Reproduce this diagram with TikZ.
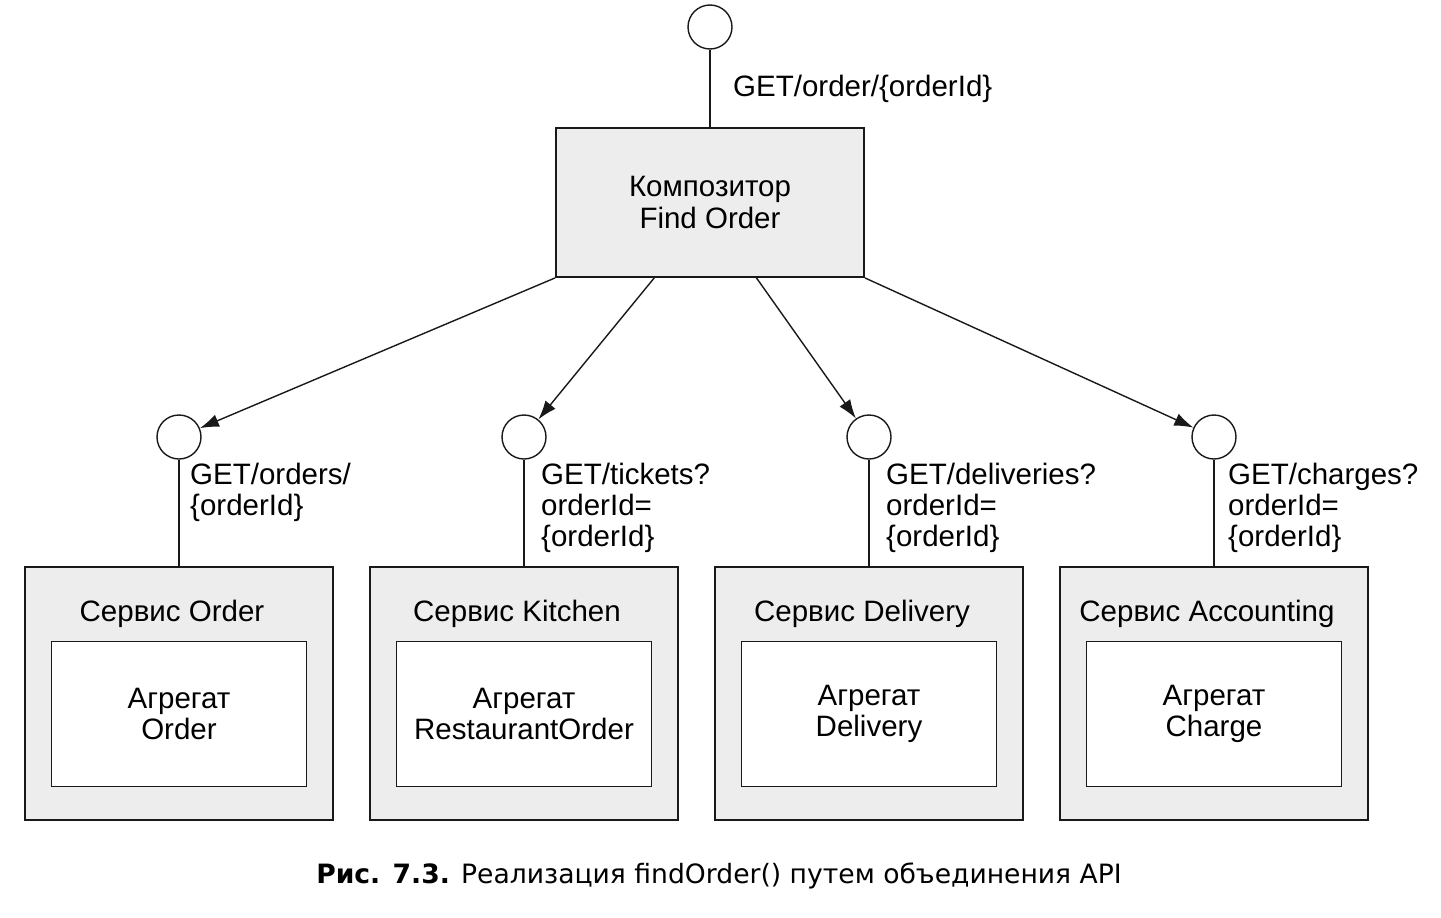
\documentclass[tikz,border=0pt]{standalone}
\usepackage{fontspec}
\setmainfont{Liberation Sans}
\newfontfamily\capfont{DejaVu Sans}
\usetikzlibrary{arrows.meta,calc,positioning}

\begin{document}
\begin{tikzpicture}[x=1pt,y=-1pt]

\tikzset{greybox/.style={draw=black!90,fill=black!7,line width=1.8pt,inner sep=0pt},
aggbox/.style={draw=black!90,fill=white,line width=1.8pt,minimum width=255pt,minimum height=145pt,inner sep=0pt,align=center,font=\fontsize{29.5}{31}\selectfont},
port/.style={draw=black!90,fill=white,circle,line width=1.4pt,minimum size=44pt,inner sep=0pt},
apilabel/.style={anchor=north west,align=left,inner sep=0pt,font=\fontsize{29.5}{31}\selectfont},
link/.style={line width=1.4pt,draw=black!90},
call/.style={link,-{Latex[length=19pt,width=13pt]}}}

% frame
\useasboundingbox (0,0) rectangle (1441,918);

% composer
\node (top) [port] at (710,27) {};
\node (comp) [greybox,minimum width=308pt,minimum height=149pt,align=center,font=\fontsize{29.5}{32}\selectfont] at (710,202.5) {Композитор\\Find Order};
\draw[link] (top) -- (comp);
\node (topapi) [apilabel] at (733,75) {GET/order/\{orderId\}};

% services with their aggregates
\foreach \i/\x/\svc/\agg in {1/179/Order/Order, 2/524/Kitchen/RestaurantOrder, 3/869/Delivery/Delivery, 4/1214/Accounting/Charge} {
  \node (svc\i) [greybox,minimum width=308pt,minimum height=253pt] at (\x,693.5) {};
  \node (name\i) [inner sep=0pt,font=\fontsize{29.5}{31}\selectfont] at ($(svc\i.north)+(-7,48)$) {Сервис \svc};
  \node (agg\i) [aggbox] at (\x,714) {Агрегат\\\agg};
  \node (c\i) [port] at (\x,437) {};
  \draw[link] (c\i) -- (svc\i);
}

% api labels
\node (api1) [apilabel] at (190,463) {GET/orders/\\\{orderId\}};
\node (api2) [apilabel] at (541,463) {GET/tickets?\\orderId=\\\{orderId\}};
\node (api3) [apilabel] at (886,463) {GET/deliveries?\\orderId=\\\{orderId\}};
\node (api4) [apilabel] at (1228,463) {GET/charges?\\orderId=\\\{orderId\}};

% calls
\draw[call] (comp.south west) -- (c1);
\draw[call] ($(comp.south west)!0.32!(comp.south east)$) -- (c2);
\draw[call] ($(comp.south west)!0.65!(comp.south east)$) -- (c3);
\draw[call] (comp.south east) -- (c4);

%% caption
\node (caption) at (719,876) {\capfont\fontsize{26.6}{30}\selectfont\textbf{Рис. 7.3.} Реализация findOrder() путем объединения API};

\end{tikzpicture}
\end{document}
